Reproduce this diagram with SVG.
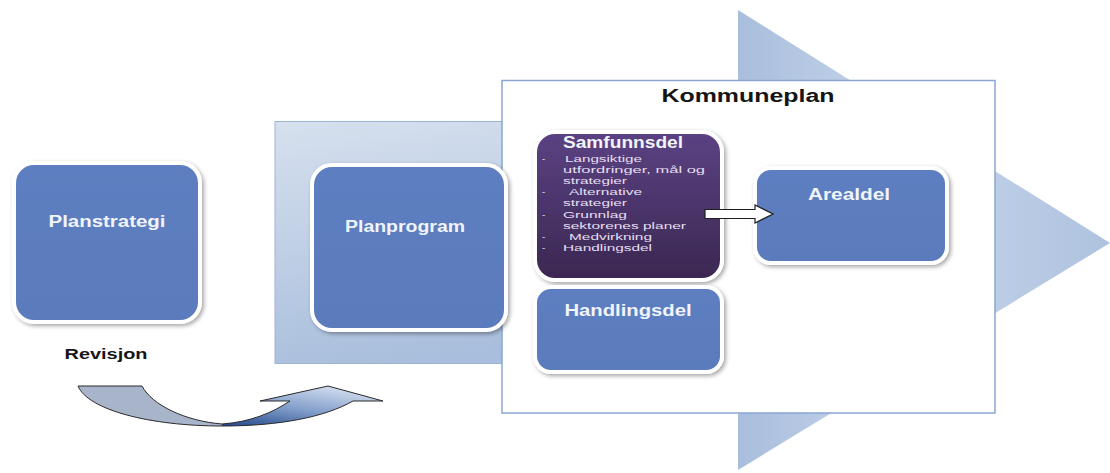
<svg xmlns="http://www.w3.org/2000/svg" width="1110" height="473" viewBox="0 0 1110 473">
  <defs>
    <linearGradient id="shaftGrad" x1="0" y1="0" x2="0.3" y2="1">
      <stop offset="0" stop-color="#d6e0ee"/>
      <stop offset="1" stop-color="#a8bedc"/>
    </linearGradient>
    <linearGradient id="headGrad" x1="0" y1="0" x2="1" y2="0">
      <stop offset="0" stop-color="#a9bedd"/>
      <stop offset="0.45" stop-color="#c7d5ea"/>
      <stop offset="1" stop-color="#aec2df"/>
    </linearGradient>
    <linearGradient id="purpleGrad" x1="0" y1="0" x2="0" y2="1">
      <stop offset="0" stop-color="#5b4283"/>
      <stop offset="1" stop-color="#3a2751"/>
    </linearGradient>
    <linearGradient id="blueBox" x1="0" y1="0" x2="0" y2="1">
      <stop offset="0" stop-color="#5d7ec0"/>
      <stop offset="1" stop-color="#5a7bbc"/>
    </linearGradient>
    <linearGradient id="curveRight" x1="0" y1="1" x2="0.6" y2="0">
      <stop offset="0" stop-color="#24468a"/>
      <stop offset="0.5" stop-color="#7f9cc9"/>
      <stop offset="1" stop-color="#cdd9ec"/>
    </linearGradient>
    <filter id="shadow" x="-10%" y="-10%" width="125%" height="125%">
      <feDropShadow dx="2" dy="2" stdDeviation="2" flood-color="#000" flood-opacity="0.35"/>
    </filter>
    <style>
      .box { stroke: #ffffff; stroke-width: 4; filter: url(#shadow); }
      .blue { fill: url(#blueBox); }
      .title { font-family: "Liberation Sans", Arial, sans-serif; font-weight: bold; font-size: 16px; fill: #f1f4fb; }
      .label { font-family: "Liberation Sans", Arial, sans-serif; font-weight: bold; fill: #151515; }
      .bul { font-family: "Liberation Sans", Arial, sans-serif; font-size: 9.6px; fill: #e6def2; }
    </style>
  </defs>

  <g id="background-arrow">
    <rect x="275" y="121.5" width="470" height="242" fill="url(#shaftGrad)" stroke="#9fb3d4" stroke-width="1"/>
    <polygon points="738,10 1110,243 738,470" fill="url(#headGrad)"/>
  </g>

  <g id="kommuneplan">
    <rect x="502" y="80.5" width="493" height="332.5" fill="#ffffff" stroke="#8aa6d4" stroke-width="1.5"/>
    <text class="label" x="748" y="102" font-size="18" text-anchor="middle" textLength="173" lengthAdjust="spacingAndGlyphs">Kommuneplan</text>
  </g>

  <g id="planstrategi">
    <rect class="box blue" x="14" y="163" width="186" height="159" rx="20" ry="20"/>
    <text class="title" x="107" y="227" text-anchor="middle" textLength="117" lengthAdjust="spacingAndGlyphs">Planstrategi</text>
  </g>

  <g id="planprogram">
    <rect class="box blue" x="312" y="165" width="194" height="165" rx="20" ry="20"/>
    <text class="title" x="405" y="232" text-anchor="middle" textLength="120" lengthAdjust="spacingAndGlyphs">Planprogram</text>
  </g>

  <g id="samfunnsdel">
    <rect class="box" x="535" y="132" width="187" height="148" rx="20" ry="20" fill="url(#purpleGrad)"/>
    <text class="title" x="563" y="148" font-size="16" textLength="120" lengthAdjust="spacingAndGlyphs">Samfunnsdel</text>
    <g class="bul">
      <text x="542" y="162">-</text>
      <text x="565" y="162" textLength="77" lengthAdjust="spacingAndGlyphs">Langsiktige</text>
      <text x="563" y="173.1" textLength="142" lengthAdjust="spacingAndGlyphs">utfordringer, mål og</text>
      <text x="563" y="184.2" textLength="64" lengthAdjust="spacingAndGlyphs">strategier</text>
      <text x="542" y="195.3">-</text>
      <text x="569" y="195.3" textLength="73" lengthAdjust="spacingAndGlyphs">Alternative</text>
      <text x="563" y="206.4" textLength="64" lengthAdjust="spacingAndGlyphs">strategier</text>
      <text x="542" y="217.5">-</text>
      <text x="563" y="217.5" textLength="64" lengthAdjust="spacingAndGlyphs">Grunnlag</text>
      <text x="563" y="228.6" textLength="123" lengthAdjust="spacingAndGlyphs">sektorenes planer</text>
      <text x="542" y="239.7">-</text>
      <text x="569" y="239.7" textLength="83" lengthAdjust="spacingAndGlyphs">Medvirkning</text>
      <text x="542" y="250.8">-</text>
      <text x="563" y="250.8" textLength="89" lengthAdjust="spacingAndGlyphs">Handlingsdel</text>
    </g>
  </g>

  <g id="handlingsdel">
    <rect class="box blue" x="535" y="287" width="187" height="85" rx="16" ry="16"/>
    <text class="title" x="628" y="316" text-anchor="middle" textLength="127" lengthAdjust="spacingAndGlyphs">Handlingsdel</text>
  </g>

  <g id="arealdel">
    <rect class="box blue" x="755" y="168" width="192" height="95" rx="16" ry="16"/>
    <text class="title" x="849" y="200" text-anchor="middle" textLength="82" lengthAdjust="spacingAndGlyphs">Arealdel</text>
  </g>

  <g id="revisjon">
    <text class="label" x="106" y="359" font-size="14" text-anchor="middle" textLength="83" lengthAdjust="spacingAndGlyphs">Revisjon</text>
  </g>

  <g id="connectors">
    <path d="M705,209.5 L755,209.5 L755,205 L773,214 L755,223 L755,218.5 L705,218.5 Z" fill="#ffffff" stroke="#1e1e1e" stroke-width="1.2" stroke-linejoin="miter"/>
    <g id="revisjon-arrow">
      <path d="M78,386 L142,386 C152,405 185,421 222,424 L222,426 C150,426 88,410 78,386 Z" fill="#a7b4ca"/>
      <path d="M222,424 C250,422 272,413 290,401 L260,401 L328,386 L383,401 L353,401 C325,417 280,426 222,426 Z" fill="url(#curveRight)"/>
      <path d="M78,386 L142,386 C152,405 185,421 222,424 C250,422 272,413 290,401 L260,401 L328,386 L383,401 L353,401 C325,417 280,426 222,426 C150,426 88,410 78,386 Z" fill="none" stroke="#2a2a2a" stroke-width="1"/>
    </g>
  </g>
</svg>
